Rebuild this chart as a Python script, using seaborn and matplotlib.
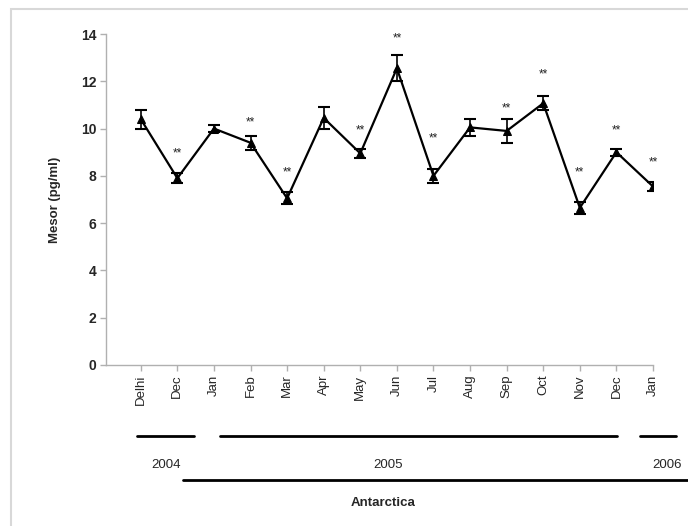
import matplotlib
matplotlib.use("Agg")
import matplotlib.pyplot as plt
from matplotlib.lines import Line2D
from matplotlib.patches import Rectangle
import seaborn as sns
import pandas as pd
import numpy as np

months = ["Delhi", "Dec", "Jan", "Feb", "Mar", "Apr", "May", "Jun", "Jul",
          "Aug", "Sep", "Oct", "Nov", "Dec", "Jan"]
mesor = [10.4, 7.9, 10.0, 9.4, 7.05, 10.45, 8.95, 12.55, 8.0,
         10.05, 9.9, 11.07, 6.65, 9.0, 7.55]
sem = [0.4, 0.2, 0.15, 0.3, 0.25, 0.45, 0.2, 0.55, 0.3,
       0.35, 0.5, 0.3, 0.25, 0.15, 0.2]
significant = [False, True, False, True, True, False, True, True, True,
               False, True, True, True, True, True]
star_y = [None, 8.95, None, 10.25, 8.15, None, 9.9, 13.8, 9.6,
          None, 10.85, 12.3, 8.15, 9.9, 8.55]
yticks = [0, 2, 4, 6, 8, 10, 12, 14]

df = pd.DataFrame({"pos": np.arange(len(months)), "mesor": mesor, "sem": sem})

sns.set_theme(style="white")
plt.rcParams["font.family"] = ["Liberation Sans", "DejaVu Sans"]

W, H = 688, 526
fig = plt.figure(figsize=(W / 100, H / 100), dpi=100)
ax = fig.add_axes([106 / W, 1 - 365 / H, (653 - 106) / W, (365 - 34) / H])

ax.errorbar(df["pos"], df["mesor"], yerr=df["sem"], fmt="none",
            ecolor="black", elinewidth=1.2, capsize=4, capthick=1.5, zorder=2)
sns.lineplot(data=df, x="pos", y="mesor", ax=ax, color="black", linewidth=1.6,
             marker="^", markersize=5.5, markeredgecolor="black",
             markerfacecolor="black", zorder=3)

for i, (sig, yy) in enumerate(zip(significant, star_y)):
    if sig:
        ax.text(i, yy, "**", ha="center", va="center", fontsize=8.5, color="#222222")

ax.set_xlim(-0.95, len(months) - 1)
ax.set_ylim(0, 14)
ax.set_yticks(yticks)
ax.set_yticklabels([str(t) for t in yticks], fontsize=10, fontweight="bold")
ax.set_xticks(df["pos"])
ax.set_xticklabels(months, rotation=90, fontsize=9.5)
ax.set_xlabel("")
ax.set_ylabel("Mesor (pg/ml)", fontsize=9.5, fontweight="bold", labelpad=14)

for s in ["top", "right"]:
    ax.spines[s].set_visible(False)
for s in ["left", "bottom"]:
    ax.spines[s].set_color("#b0b0b0")
    ax.spines[s].set_linewidth(1.0)
ax.tick_params(axis="both", which="major", length=4, width=1, color="#b0b0b0",
               direction="out", bottom=True, left=True, pad=3)

# figure frame (only left and top edges visible; it runs past the image)
fig.add_artist(Rectangle((11 / W, -0.2), 1.2, 1.2 - 9 / H, transform=fig.transFigure,
                         fill=False, edgecolor="#d8d8d8", linewidth=1.5))

def hline(x0, x1, y):
    fig.add_artist(Line2D([x0 / W, x1 / W], [1 - y / H, 1 - y / H],
                          transform=fig.transFigure, color="black", linewidth=2))

def ftext(x, y, s, **kw):
    fig.text(x / W, 1 - y / H, s, ha="center", va="center", fontsize=9.5, **kw)

hline(137, 194, 436)
hline(220, 617, 436)
hline(640, 676, 436)
hline(183, 690, 480)
ftext(166, 465, "2004")
ftext(388, 465, "2005")
ftext(667, 465, "2006")
ftext(383, 503, "Antarctica", fontweight="bold")

fig.savefig("out.png", dpi=100)
